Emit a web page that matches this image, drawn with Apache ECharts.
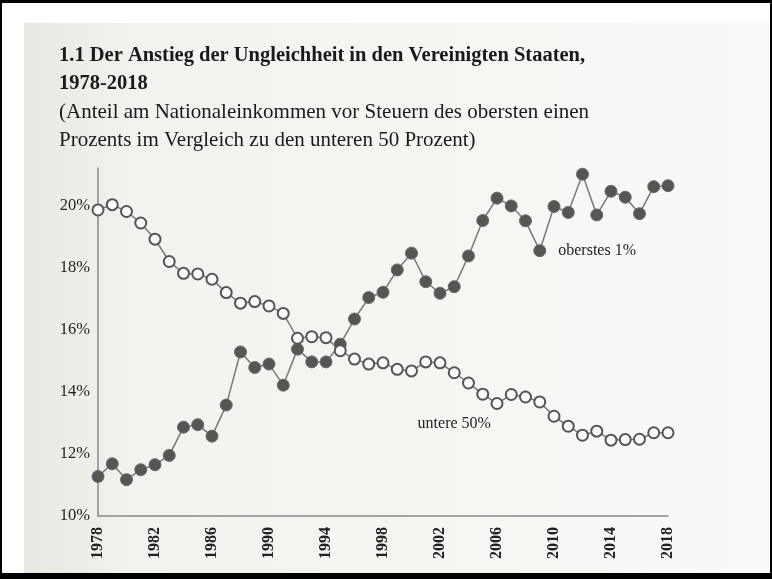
<!DOCTYPE html>
<html>
<head>
    <meta charset="utf-8">
    <title>Ungleichheit USA 1978-2018</title>
    <script src="https://cdn.jsdelivr.net/npm/echarts@6/dist/echarts.min.js"></script>
    <style>
        body { margin: 0; background: #fff; }
        #wrap { position: relative; width: 772px; height: 579px; }
        #main { position: absolute; left: 0; top: 0; width: 772px; height: 579px; }
        #frame { position: absolute; left: 0; top: 0; width: 772px; height: 579px; box-sizing: border-box;
                 border-style: solid; border-color: #000; border-width: 3px 2px 6px 2px; pointer-events: none; }
    </style>
</head>
<body>
    <div id="wrap">
        <div id="main"></div>
        <div id="frame"></div>
    </div>
    <script type="text/javascript">
        var myChart = echarts.init(document.getElementById('main'));

        // Jahre 1978-2018
        var years = [];
        for (var y = 1978; y <= 2018; y++) years.push(String(y));

        // oberstes 1% (gefüllte Punkte)
        var top1 = [11.27, 11.68, 11.17, 11.49, 11.65, 11.95, 12.86, 12.94, 12.57, 13.57,
                    15.28, 14.78, 14.89, 14.21, 15.37, 14.96, 14.96, 15.53, 16.34, 17.03,
                    17.2, 17.92, 18.46, 17.54, 17.17, 17.38, 18.37, 19.51, 20.23, 19.98,
                    19.5, 18.54, 19.96, 19.77, 21.0, 19.69, 20.45, 20.26, 19.73, 20.6, 20.63];

        // untere 50% (offene Punkte)
        var bottom50 = [19.85, 20.02, 19.8, 19.43, 18.91, 18.19, 17.81, 17.79, 17.62, 17.19,
                        16.85, 16.9, 16.76, 16.52, 15.72, 15.77, 15.74, 15.32, 15.05, 14.89,
                        14.93, 14.72, 14.67, 14.96, 14.93, 14.61, 14.28, 13.92, 13.62, 13.91,
                        13.83, 13.67, 13.21, 12.89, 12.6, 12.73, 12.44, 12.46, 12.47, 12.68, 12.68];

        var serif = '"Liberation Serif", "DejaVu Serif", serif';

        // Beschriftungen direkt an einzelne Punkte hängen
        var top1Data = top1.map(function (v, i) {
            if (years[i] === '2009') {
                return { value: v, label: { show: true, position: 'right', distance: 12,
                         formatter: 'oberstes 1%', fontFamily: serif, fontSize: 16, color: '#222' } };
            }
            return v;
        });
        var bottomData = bottom50.map(function (v, i) {
            if (years[i] === '2003') {
                return { value: v, label: { show: true, position: 'bottom', distance: 37,
                         formatter: 'untere 50%', fontFamily: serif, fontSize: 16, color: '#222' } };
            }
            return v;
        });

        var option = {
            backgroundColor: '#fff',
            animation: false,
            title: {
                left: 54,
                top: 37,
                itemGap: 0,
                text: '1.1 Der Anstieg der Ungleichheit in den Vereinigten Staaten,\n1978-2018',
                textStyle: { fontFamily: serif, fontWeight: 'bold', fontSize: 20.5, lineHeight: 28, color: '#1a1a1a' },
                subtext: '(Anteil am Nationaleinkommen vor Steuern des obersten einen\nProzents im Vergleich zu den unteren 50 Prozent)',
                subtextStyle: { fontFamily: serif, fontSize: 21, lineHeight: 28, color: '#1a1a1a' }
            },
            graphic: [{
                type: 'rect', z: -10, silent: true,
                shape: { x: 24, y: 23, width: 748, height: 550 },
                style: { fill: new echarts.graphic.LinearGradient(0, 0, 1, 0, [
                    { offset: 0, color: '#e9e8e3' }, { offset: 0.15, color: '#f3f2ee' }, { offset: 1, color: '#f9f9f7' }
                ]) }
            }],
            grid: { left: 98, right: 104, top: 168, bottom: 63 },
            xAxis: {
                type: 'category',
                data: years,
                boundaryGap: false,
                axisLine: { lineStyle: { color: '#888', width: 1.5 } },
                axisTick: { show: false },
                axisLabel: { interval: 3, rotate: 90, margin: 11, fontFamily: serif, fontSize: 16,
                             fontWeight: 'bold', color: '#222' },
                splitLine: { show: false }
            },
            yAxis: {
                type: 'value',
                min: 10,
                max: 21.2,
                interval: 2,
                axisLine: { show: true, lineStyle: { color: '#888', width: 1.5 } },
                axisTick: { show: false },
                splitLine: { show: false },
                axisLabel: { formatter: '{value}%', showMaxLabel: false, margin: 8,
                             fontFamily: serif, fontSize: 16.5, color: '#222' }
            },
            series: [{
                name: 'oberstes 1%',
                type: 'line',
                data: top1Data,
                symbol: 'circle',
                symbolSize: 12,
                showSymbol: true,
                showAllSymbol: true,
                lineStyle: { color: '#777', width: 1.5 },
                itemStyle: { color: '#555', borderColor: '#6a6a6a', borderWidth: 1 }
            }, {
                name: 'untere 50%',
                type: 'line',
                data: bottomData,
                symbol: 'circle',
                symbolSize: 11,
                showSymbol: true,
                showAllSymbol: true,
                lineStyle: { color: '#777', width: 1.5 },
                itemStyle: { color: '#fbfbfa', borderColor: '#555', borderWidth: 2 }
            }]
        };

        myChart.setOption(option);
    </script>
</body>
</html>
